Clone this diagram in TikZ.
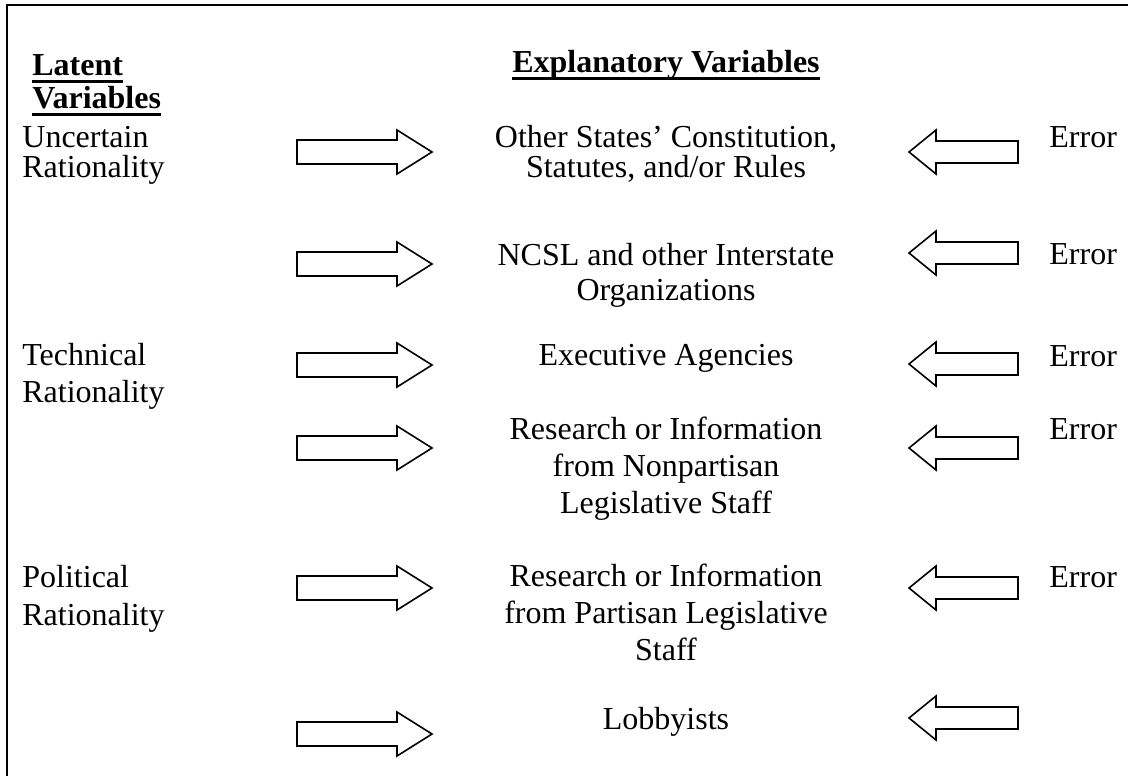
\documentclass[tikz,border=0pt]{standalone}
\usepackage{fontspec}
\setmainfont{Liberation Serif}
\newcommand\myul[1]{\setbox0=\hbox{#1}\leavevmode\rlap{\rule[-3.8pt]{\wd0}{1.5pt}}\box0}
\begin{document}
\begin{tikzpicture}[x=0.5pt,y=-0.5pt,
  txt/.style={inner sep=0pt, align=center, font=\fontsize{16}{18}\selectfont},
  ltxt/.style={inner sep=0pt, align=left, anchor=base west},
  ctxt/.style={txt, anchor=base},
  hdr/.style={font=\fontsize{16}{16.5}\selectfont\bfseries},
  arrowline/.style={draw=black, line width=0.8pt, line join=miter},
  rarrow/.pic={\draw[arrowline] (-135,-12) -- (-35,-12) -- (-35,-22) -- (0,0) -- (-35,22) -- (-35,12) -- (-135,12) -- cycle;},
  larrow/.pic={\draw[arrowline] (109,-11) -- (27,-11) -- (27,-22) -- (0,0) -- (27,22) -- (27,11) -- (109,11) -- cycle;}
]
\useasboundingbox (0,0) rectangle (1128,776);
% frame (cut off at right and bottom)
\draw[line width=1pt] (7,776) -- (7,5) -- (1128,5);

% headers (anchor base = baseline of the last line)
\node[ltxt, hdr] (hdrL) at (32,108) {\myul{Latent}\\\myul{Variables}};
\node[txt, anchor=base, hdr] (hdrC) at (666,72) {\myul{Explanatory Variables}};

% latent variables
\node[txt, ltxt, font=\fontsize{16}{15}\selectfont] (lat1) at (22,177) {Uncertain\\Rationality};
\node[txt, ltxt, font=\fontsize{16}{18.5}\selectfont] (lat2) at (22,402) {Technical\\Rationality};
\node[txt, ltxt, font=\fontsize{16}{19}\selectfont] (lat3) at (22,625) {Political\\Rationality};

% explanatory variables
\node[ctxt, font=\fontsize{16}{15}\selectfont] (ex1) at (666,177) {Other States’ Constitution,\\Statutes, and/or Rules};
\node[ctxt, font=\fontsize{16}{17.5}\selectfont] (ex2) at (666,300) {NCSL and other Interstate\\Organizations};
\node[ctxt] (ex3) at (666,365) {Executive Agencies};
\node[ctxt, font=\fontsize{16}{18.3}\selectfont] (ex4) at (666,513) {Research or Information\\from Nonpartisan\\Legislative Staff};
\node[ctxt, font=\fontsize{16}{18.3}\selectfont] (ex5) at (666,660) {Research or Information\\from Partisan Legislative\\Staff};
\node[ctxt] (ex6) at (666,729) {Lobbyists};

% errors
\node[txt, ltxt] (er1) at (1049,147) {Error};
\node[txt, ltxt] (er2) at (1049,264) {Error};
\node[txt, ltxt] (er3) at (1049,366) {Error};
\node[txt, ltxt] (er4) at (1049,439) {Error};
\node[txt, ltxt] (er5) at (1049,587) {Error};

% arrows from latent variables to explanatory variables
\foreach \yy in {152,264,365,448,588,734} \pic at (432,\yy) {rarrow};
% arrows from errors
\foreach \yy in {152,253,364,448,588,718} \pic at (909,\yy) {larrow};
\end{tikzpicture}
\end{document}
